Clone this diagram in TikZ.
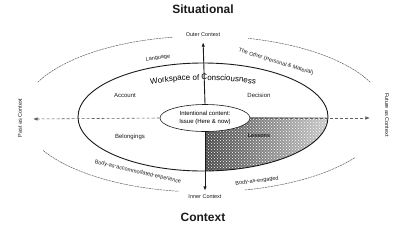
\documentclass[tikz,border=0pt]{standalone}
\usepackage{fontspec}
\setmainfont{Liberation Sans}
\usetikzlibrary{arrows.meta,shapes.geometric,patterns,calc,decorations.text}
\definecolor{ctxInk}{HTML}{1a1a1a}
\definecolor{ctxGrey}{HTML}{5e5e5e}
\definecolor{ctxShade}{HTML}{4a4a4a}
\tikzset{
  >={Latex[length=1.6mm,width=1.2mm]},
  ring/.style={draw=ctxGrey, line width=0.5pt, dash pattern=on 2.2pt off 0.7pt},
  space/.style={draw=ctxInk, line width=0.9pt},
  issue/.style={ellipse, draw=ctxInk, line width=0.6pt, fill=white,
              minimum width=90pt, minimum height=27pt, inner sep=0pt,
              align=center, font=\fontsize{6}{7.5}\selectfont},
  lbl/.style={font=\fontsize{6}{7}\selectfont, text=ctxInk, inner sep=1pt},
  sml/.style={font=\fontsize{5.5}{6.5}\selectfont, text=ctxInk, inner sep=1pt},
  head/.style={font=\fontsize{12}{14}\selectfont\bfseries, text=ctxInk},
  axis/.style={->, draw=ctxInk, line width=0.9pt},
  time/.style={->, draw=ctxGrey, line width=0.6pt, densely dashed},
}

\begin{document}
\begin{tikzpicture}[x=1pt,y=-1pt]
  \useasboundingbox (0,0) rectangle (412,226);
  \coordinate (oc) at (204,114);
  \coordinate (wc) at (203,117);
  % stippled quadrant
  \path[pattern=crosshatch dots, pattern color=white,
        preaction={left color=ctxShade, right color=ctxShade!30}]
    (205,117) -- ($(wc)+(0:125 and 54)$)
    arc[start angle=0, end angle=89, x radius=125, y radius=54] -- cycle;
  \draw[space] (wc) ellipse[x radius=125, y radius=54];
  % outer ring, broken at the four labels
  \foreach \a/\b in {-100/-156,152/98,77/34,-24/-76}{
    \draw[ring] ($(oc)+(\a:182 and 78)$)
      arc[start angle=\a, end angle=\b, x radius=182, y radius=78];}
  \node[issue] (iss) at (205,118) {Intentional content:\\Issue (Here \& now)};
  \node[head] (sit) at (203,9) {Situational};
  \node[head] (ctx) at (203,217) {Context};
  \node[sml] (outer) at (203,35) {Outer Context};
  \node[sml] (inner) at (205,197) {Inner Context};
  \node[sml,rotate=90] (past) at (20,118) {Past as Context};
  \node[sml,rotate=-90] (fut) at (387,115) {Future as Context};
  \coordinate (pastEnd) at (33,119);
  \coordinate (futEnd) at (370,118);
  \draw[axis,shorten >=4pt] (iss.north) -- (outer.south);
  \draw[axis,shorten >=3pt] (iss.south) -- (inner.north);
  \draw[time] (iss.west) -- (pastEnd);
  \draw[time] (iss.east) -- (futEnd);
  % ring labels
  \node[sml,rotate=8] (lang) at (158,58) {Language};
  \node[sml,rotate=-17] (other) at (276,62) {The Other (Personal \& Material)};
  \path[decorate, decoration={text along path, text align=center,
        text={|\fontsize{8}{10}\selectfont|Workspace of Consciousness}}]
    ($(wc)+(-128:112 and 37)$) arc[start angle=-128, end angle=-52, x radius=112, y radius=37];
  \node[lbl] (acc) at (125,95) {Account};
  \node[lbl] (dec) at (259,95) {Decision};
  \node[lbl] (bel) at (130,137) {Belongings};
  \node[sml,font=\fontsize{5.5}{6.5}\selectfont\bfseries] (les) at (259,136) {Lessons};
  \node[sml,rotate=-13] (bae) at (138,172) {Body-as-accommodated-experience};
  \node[sml,rotate=7] (bag) at (257,181) {Body-as-engaged};
\end{tikzpicture}
\end{document}
